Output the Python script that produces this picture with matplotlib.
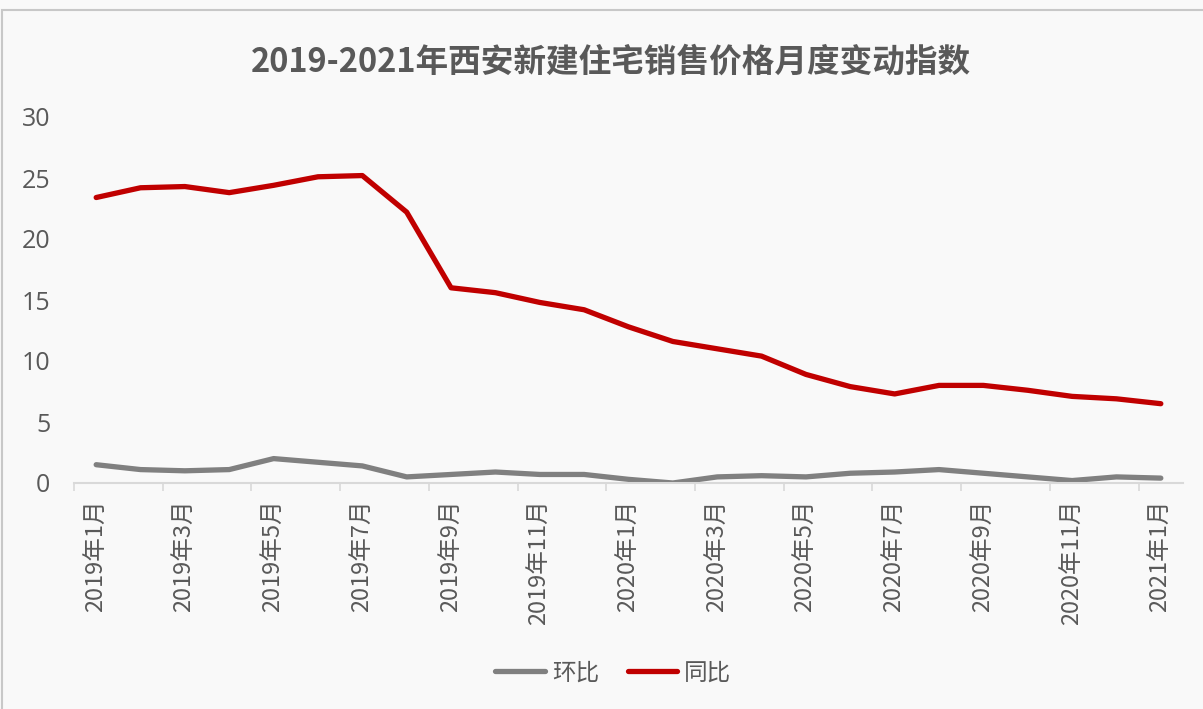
import matplotlib
matplotlib.use("Agg")
import matplotlib.pyplot as plt
from matplotlib.patches import Rectangle

plt.rcParams['font.family'] = ['Noto Sans CJK SC', 'DejaVu Sans']

# monthly data, 2019-01 .. 2021-01
months = ['2019年1月', '2019年2月', '2019年3月', '2019年4月', '2019年5月', '2019年6月',
          '2019年7月', '2019年8月', '2019年9月', '2019年10月', '2019年11月', '2019年12月',
          '2020年1月', '2020年2月', '2020年3月', '2020年4月', '2020年5月', '2020年6月',
          '2020年7月', '2020年8月', '2020年9月', '2020年10月', '2020年11月', '2020年12月',
          '2021年1月']
huanbi = [1.5, 1.1, 1.0, 1.1, 2.0, 1.7, 1.4, 0.5, 0.7, 0.9, 0.7, 0.7,
          0.3, 0.0, 0.5, 0.6, 0.5, 0.8, 0.9, 1.1, 0.8, 0.5, 0.2, 0.5, 0.4]
tongbi = [23.4, 24.2, 24.3, 23.8, 24.4, 25.1, 25.2, 22.2, 16.0, 15.6, 14.8, 14.2,
          12.8, 11.6, 11.0, 10.4, 8.9, 7.9, 7.3, 8.0, 8.0, 7.6, 7.1, 6.9, 6.5]

bg = '#f9f9f9'
txt = '#595959'

fig = plt.figure(figsize=(12.03, 7.09), dpi=100, facecolor=bg)
# outer chart border
fig.patches.append(Rectangle((2 / 1203, -0.01), 1.2, 1 - 10 / 709 + 0.01,
                             transform=fig.transFigure, fill=False,
                             edgecolor='#c8c8c8', linewidth=1.5))

ax = fig.add_axes([74 / 1203, 1 - 483 / 709, (1183 - 74) / 1203, (483 - 117) / 709])
ax.set_facecolor(bg)

x = list(range(len(months)))
ax.plot(x, huanbi, color='#808080', linewidth=3.8, label='环比', solid_capstyle='round')
ax.plot(x, tongbi, color='#c00000', linewidth=3.8, label='同比', solid_capstyle='round')

ax.set_xlim(-0.5, len(months) - 0.5)
ax.set_ylim(0, 30)
ax.set_yticks(range(0, 31, 5))
ax.tick_params(axis='y', length=0, labelsize=18, labelcolor=txt, pad=17)
for lab in ax.get_yticklabels():
    lab.set_family(['Open Sans', 'DejaVu Sans'])

# labels in the middle of the categories, tick marks on the boundaries
ax.set_xticks(x[::2])
ax.set_xticklabels(months[::2], rotation=90, fontsize=17, color=txt)
ax.tick_params(axis='x', which='major', length=0, pad=12)
ax.set_xticks([i - 0.5 for i in range(0, len(months), 2)], minor=True)
ax.tick_params(axis='x', which='minor', length=6, color='#d9d9d9', width=1.2)

for s in ['top', 'right', 'left']:
    ax.spines[s].set_visible(False)
ax.spines['bottom'].set_color('#d9d9d9')
ax.spines['bottom'].set_linewidth(1.5)

fig.text(0.508, 1 - 62 / 709, '2019-2021年西安新建住宅销售价格月度变动指数',
         ha='center', va='center', fontsize=23.5, fontweight='bold', color=txt)

leg = fig.legend(loc='center', bbox_to_anchor=(0.51, 1 - 673 / 709), ncol=2,
                 frameon=False, fontsize=17, handlelength=2.1, handletextpad=0.3,
                 columnspacing=1.2)
for t in leg.get_texts():
    t.set_color(txt)

fig.savefig('out.png', dpi=100, facecolor=bg)
